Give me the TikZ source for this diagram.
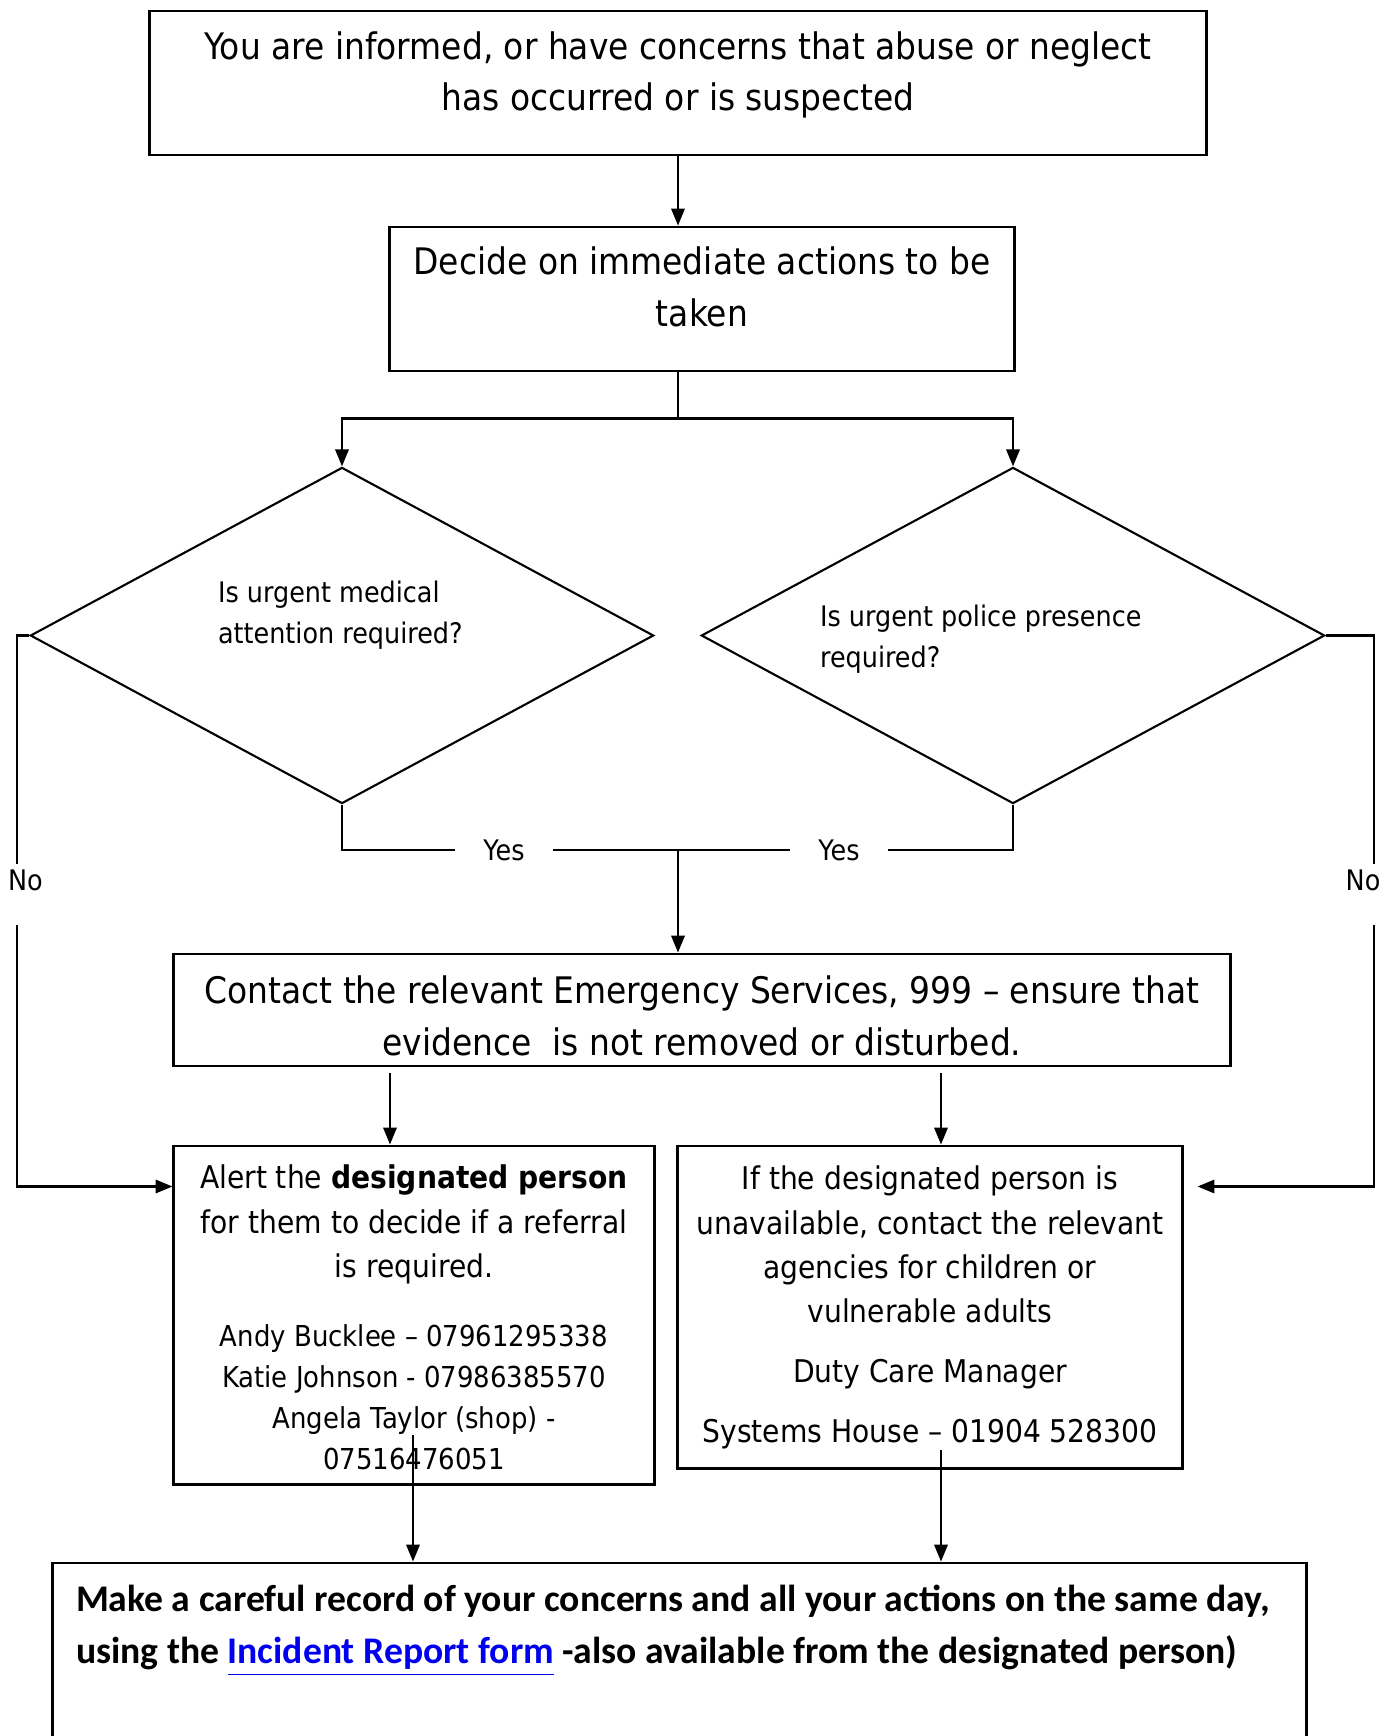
\documentclass[tikz,border=0pt]{standalone}
\usepackage{fontspec}
\setmainfont{DejaVu Sans}[FakeStretch=0.9]
\newfontfamily\recfont{Carlito}
\usetikzlibrary{arrows.meta, shapes.geometric, calc}
\definecolor{linkblue}{RGB}{0,0,238}

\tikzset{
  box/.style={draw, line width=0.8pt, inner sep=0pt},
  query/.style={draw, diamond, inner sep=0pt, minimum width=6.23cm, minimum height=3.36cm},
  arr/.style={-{Triangle[length=4.8pt,width=3.8pt]}},
  bigtxt/.style={font=\fontsize{10.4pt}{14.7pt}\selectfont, align=center, inner sep=0pt},
  midtxt/.style={font=\fontsize{8.9pt}{12.6pt}\selectfont, align=center, inner sep=0pt},
  smalltxt/.style={font=\fontsize{8.05pt}{11.7pt}\selectfont, inner sep=0pt},
  gaptxt/.style={smalltxt, inner xsep=7.8pt}
}
\newcommand{\linkline}[1]{\textcolor{linkblue}{\underline{#1}}}

\begin{document}
\begin{tikzpicture}[x=0.01cm, y=-0.01cm, line width=0.6pt]
\useasboundingbox (0,0) rectangle (1394,1736);

\node [box, minimum width=10.56cm, minimum height=1.44cm] (inform) at (678,83) {};
\node [box, minimum width=6.24cm, minimum height=1.44cm] (decide) at (702,299) {};
\node [query] (med) at (342,635.5) {};
\node [query] (pol) at (1013,635.5) {};
\node [box, minimum width=10.56cm, minimum height=1.12cm] (emerg) at (702,1010) {};
\node [box, minimum width=4.80cm, minimum height=3.38cm] (alert) at (414,1315) {};
\node [box, minimum width=5.04cm, minimum height=3.22cm] (agency) at (930,1307) {};
\node [box, minimum width=12.53cm, minimum height=2.00cm] (record) at (679.5,1663) {};

\node [bigtxt] (informtxt) at (678,75) {You are informed, or have concerns that abuse or neglect\\has occurred or is suspected};
\node [bigtxt] (decidetxt) at (702,287) {Decide on immediate actions to be\\taken};
\node [smalltxt, align=left, anchor=west] (medtxt) at (217,615) {Is urgent medical\\attention required?};
\node [smalltxt, align=left, anchor=west] (poltxt) at (819,639.5) {Is urgent police presence\\required?};
\node [bigtxt] (emergtxt) at (702,1016) {Contact the relevant Emergency Services, 999 – ensure that\\evidence\ \ is not removed or disturbed.};
\node [midtxt] (alerttxt) at (414,1224.5) {Alert the \textbf{designated person}\\for them to decide if a referral\\is required.};
\node [midtxt, font=\fontsize{8.2pt}{11.7pt}\selectfont] (alertlist) at (414,1397) {Andy Bucklee – 07961295338\\Katie Johnson - 07986385570\\Angela Taylor (shop) -\\07516476051};
\node [midtxt] (agencytxt) at (930,1244.5) {If the designated person is\\unavailable, contact the relevant\\agencies for children or\\vulnerable adults};
\node [midtxt, font=\fontsize{8.9pt}{16.9pt}\selectfont] (dutytxt) at (930,1404) {Duty Care Manager\\Systems House – 01904 528300};
\node [font=\recfont\bfseries\fontsize{10.7pt}{14.8pt}\selectfont, align=left, anchor=west, inner sep=0pt] (rectxt) at (75,1631) {Make a careful record of your concerns and all your actions on the same day,\\using the \linkline{Incident Report form} -also available from the designated person)};

\node [gaptxt] (yesL) at (504,850) {Yes};
\node [gaptxt] (yesR) at (839,850) {Yes};
\node [smalltxt] (noL) at (25.5,880) {No};
\node [smalltxt] (noR) at (1363,880) {No};

\coordinate (split) at (678,418.5);
\coordinate (noLtop) at (16.6,864);
\coordinate (noLbot) at (16.6,924.5);
\coordinate (noRtop) at (1374,864);
\coordinate (noRbot) at (1374,924.5);
\coordinate (ax) at ($(alert.south)+(-1,0)$);
\coordinate (gx) at ($(agency.south)+(11,0)$);

\draw [arr] (inform.south) -- (inform.south |- decide.north);
\draw (inform.south |- decide.south) -- (split);
\draw [arr] (split) -| (med.north);
\draw [arr] (split) -| (pol.north);
\draw (med.south) |- (yesL.west);
\draw (yesL.east) -- (yesR.west);
\draw (yesR.east) -| (pol.south);
\draw [arr] (split |- yesL) -- (split |- emerg.north);
\draw (med.west) -| (noLtop);
\draw [arr] (noLbot) |- ($(alert.north west)+(0,42)$);
\draw (pol.east) -| (noRtop);
\draw [arr] (noRbot) |- ($(agency.north east)+(14,42)$);
\draw [arr] ($(alert.north)+(-24,-72)$) -- ($(alert.north)+(-24,0)$);
\draw [arr] ($(agency.north)+(11,-72)$) -- ($(agency.north)+(11,0)$);
\draw [arr] ($(ax)+(0,-51)$) -- (ax |- record.north);
\draw [arr] ($(gx)+(0,-20)$) -- (gx |- record.north);
\end{tikzpicture}
\end{document}
